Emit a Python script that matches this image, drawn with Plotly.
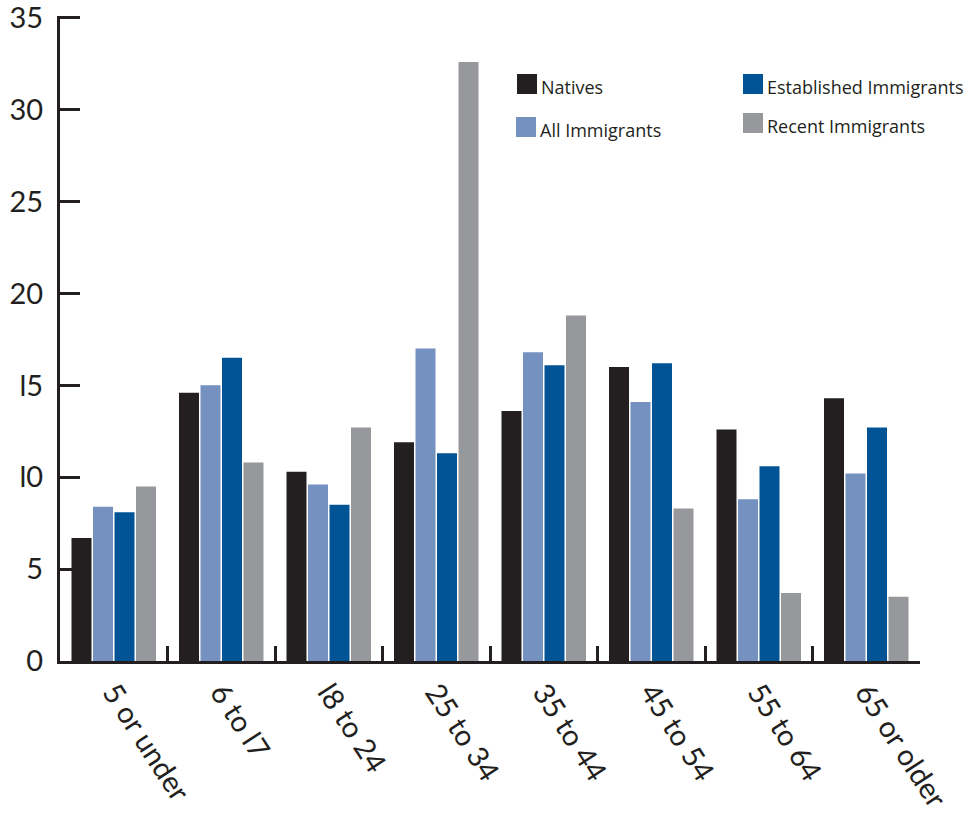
import plotly.graph_objects as go

categories = ["5 or under", "6 to 17", "18 to 24", "25 to 34", "35 to 44", "45 to 54", "55 to 64", "65 or older"]
tick_labels = ["5 or under", "6 to l7", "l8 to 24", "25 to 34", "35 to 44", "45 to 54", "55 to 64", "65 or older"]

natives = [6.7, 14.6, 10.3, 11.9, 13.6, 16.0, 12.6, 14.3]
all_immigrants = [8.4, 15.0, 9.6, 17.0, 16.8, 14.1, 8.8, 10.2]
established = [8.1, 16.5, 8.5, 11.3, 16.1, 16.2, 10.6, 12.7]
recent = [9.5, 10.8, 12.7, 32.6, 18.8, 8.3, 3.7, 3.5]

series_names = ["Natives", "All Immigrants", "Established Immigrants", "Recent Immigrants"]
series_values = [natives, all_immigrants, established, recent]
series_colors = ["#231F20", "#7491C0", "#005496", "#97989C"]

y_ticks = [0, 5, 10, 15, 20, 25, 30, 35]
y_tick_text = ["0", "5", "l0", "l5", "20", "25", "30", "35"]

AXIS = "#231F20"
FONT_T = "Lato, 'Gill Sans', sans-serif"
FONT_L = "'Open Sans', 'Noto Sans', sans-serif"

fig = go.Figure()
for name, vals, col in zip(series_names, series_values, series_colors):
    fig.add_trace(go.Bar(x=categories, y=vals, name=name, marker=dict(color=col, line=dict(width=0)),
                         showlegend=False, cliponaxis=False))

W, H = 969, 820
ml, mr, mt, mb = 60, 49, 16, 159

# manual legend (two columns), positions in pixels converted to paper coords
leg_pos = [(517, 84), (516, 127), (743, 84), (743, 123)]
shapes = []
annotations = []
pw = W - ml - mr
ph = H - mt - mb
for (px, py), name, col in zip(leg_pos, series_names, series_colors):
    x0 = (px - ml) / pw
    x1 = (px + 20 - ml) / pw
    y0 = 1 - (py - 10 - mt) / ph
    y1 = 1 - (py + 10 - mt) / ph
    shapes.append(dict(type="rect", xref="paper", yref="paper", x0=x0, x1=x1, y0=y1, y1=y0,
                       fillcolor=col, line=dict(width=0)))
    annotations.append(dict(xref="paper", yref="paper", x=(px + 22 - ml) / pw, y=1 - (py + 3 - mt) / ph,
                            text=name, showarrow=False, xanchor="left", yanchor="middle",
                            font=dict(family=FONT_L, size=18, color="#231F20")))

fig.update_layout(
    width=W, height=H,
    margin=dict(l=ml, r=mr, t=mt, b=mb, pad=0, autoexpand=False),
    paper_bgcolor="white", plot_bgcolor="white",
    barmode="group", bargap=0.2, bargroupgap=0.07,
    shapes=shapes, annotations=annotations,
    xaxis=dict(
        type="category", range=[-0.5, 7.5], automargin=False,
        tickmode="array", tickvals=categories, ticktext=tick_labels,
        tickson="boundaries", ticks="inside", ticklen=15, tickwidth=3, tickcolor=AXIS,
        showline=True, linecolor=AXIS, linewidth=3, showgrid=False, zeroline=False,
        tickangle=57, tickfont=dict(family=FONT_T, size=29, color="#231F20"),
        ticklabeloverflow="allow",
    ),
    yaxis=dict(
        range=[0, 35.1], tickmode="array", tickvals=y_ticks, ticktext=y_tick_text, automargin=False,
        ticks="inside", ticklen=20, tickwidth=3, tickcolor=AXIS,
        showline=True, linecolor=AXIS, linewidth=3, showgrid=False, zeroline=False,
        tickfont=dict(family=FONT_T, size=29, color="#231F20"), ticklabelstandoff=8,
        ticklabeloverflow="allow",
    ),
)

fig.write_html("out.html", config={"displayModeBar": False},
               post_script="document.body.style.margin='0';document.body.style.overflow='hidden';")
